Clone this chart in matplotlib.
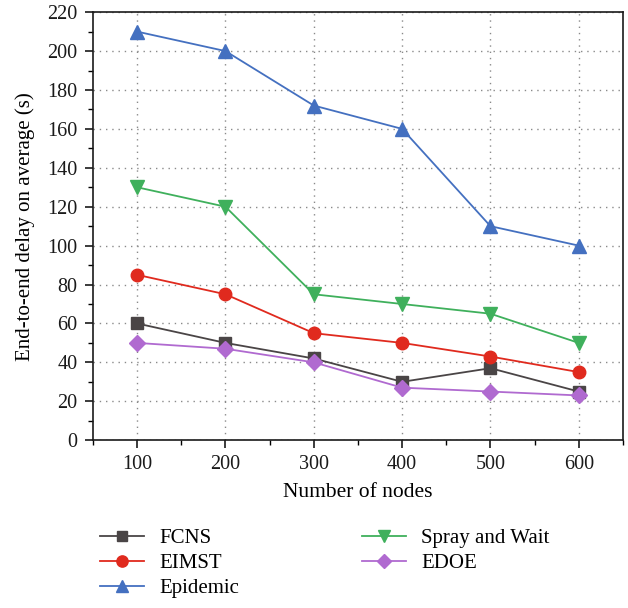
import matplotlib
matplotlib.use("Agg")
import matplotlib.pyplot as plt
from matplotlib.ticker import MultipleLocator

plt.rcParams['font.family'] = ['Liberation Serif', 'DejaVu Serif']

nodes = [100, 200, 300, 400, 500, 600]
fcns = [60, 50, 42, 30, 37, 25]
eimst = [85, 75, 55, 50, 43, 35]
epidemic = [210, 200, 172, 160, 110, 100]
spray = [130, 120, 75, 70, 65, 50]
edoe = [50, 47, 40, 27, 25, 23]

fig = plt.figure(figsize=(6.28, 6.08), dpi=100)
ax = fig.add_axes([0.148, 0.276, 0.844, 0.704])

l1, = ax.plot(nodes, fcns, color='#4a4546', marker='s', ms=8.5, lw=1.3, label='FCNS')
l2, = ax.plot(nodes, eimst, color='#e02a1e', marker='o', ms=9, lw=1.3, label='EIMST')
l3, = ax.plot(nodes, epidemic, color='#4470c0', marker='^', ms=9.5, lw=1.3, label='Epidemic')
l4, = ax.plot(nodes, spray, color='#3fb05c', marker='v', ms=9.5, lw=1.3, label='Spray and Wait')
l5, = ax.plot(nodes, edoe, color='#b06ad0', marker='D', ms=8, lw=1.3, label='EDOE')

ax.set_xlim(50, 650)
ax.set_ylim(0, 220)
ax.xaxis.set_major_locator(MultipleLocator(100))
ax.xaxis.set_minor_locator(MultipleLocator(50))
ax.yaxis.set_major_locator(MultipleLocator(20))
ax.yaxis.set_minor_locator(MultipleLocator(10))
ax.tick_params(axis='both', which='major', direction='out', length=6, width=1.2, labelsize=14.5, colors='#1a1a1a', pad=5)
ax.tick_params(axis='both', which='minor', direction='out', length=3.5, width=1.0)
ax.tick_params(top=False, right=False, which='both')
for s in ax.spines.values():
    s.set_linewidth(1.2)
    s.set_color('#1a1a1a')

ax.grid(True, which='major', color='#8a8a8a', linestyle=(0, (1, 3.5)), linewidth=1.0)
ax.set_axisbelow(True)

ax.set_xlabel('Number of nodes', fontsize=15.5, labelpad=6)
ax.set_ylabel('End-to-end delay on average (s)', fontsize=15, labelpad=9)

fig.legend(handles=[l1, l2, l3, l4, l5], loc='upper left', bbox_to_anchor=(0.159, 0.131),
           ncol=2, frameon=False, fontsize=15, handlelength=2.1, handletextpad=0.75,
           columnspacing=5.9, labelspacing=0.27, borderaxespad=0, borderpad=0, markerscale=0.9)

fig.savefig('out.png', dpi=100)
